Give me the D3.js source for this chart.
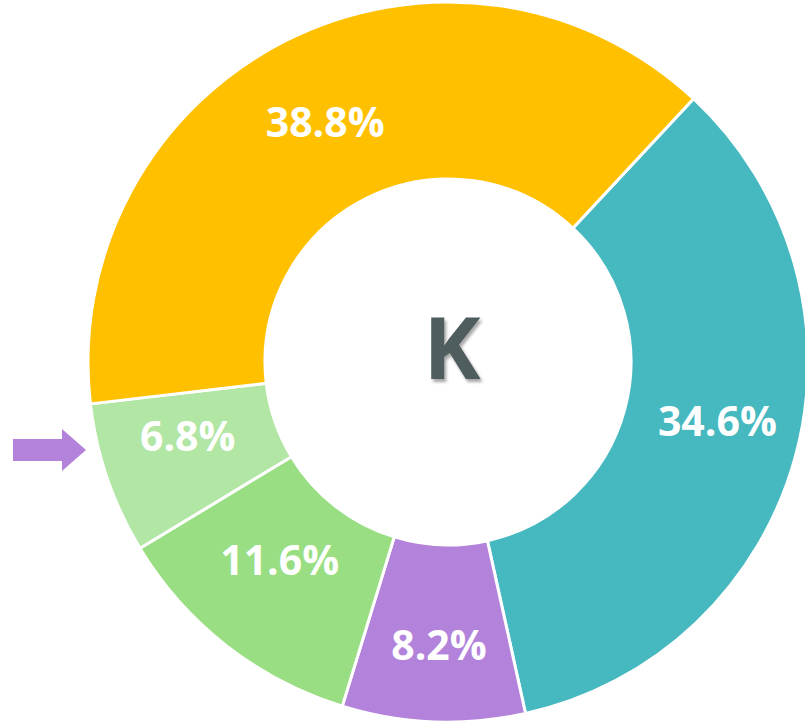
<!DOCTYPE html>
<html lang="en">
<head>
    <meta charset="UTF-8">
    <title>K donut</title>
    <style>
        body { margin: 0; background: #fff; }
        .slice-label {
            font-family: "Open Sans", "DejaVu Sans", sans-serif;
            font-weight: 700;
            font-size: 41px;
            fill: #fff;
        }
        .center-label {
            font-family: "Open Sans", "DejaVu Sans", sans-serif;
            font-weight: 700;
            font-size: 86px;
            fill: #4f5d5e;
        }
    </style>
</head>
<body>
    <svg width="805" height="728"></svg>

    <script src="https://d3js.org/d3.v7.min.js"></script>
    <script>
        // shares in percent, clockwise starting from the upper right
        const segments = ['A', 'B', 'C', 'D', 'E'];
        const shares = [34.6, 8.2, 11.6, 6.8, 38.8];
        const colors = ['#46b8c0', '#b383db', '#99de83', '#b2e6a4', '#ffc000'];
        const centerText = 'K';
        const highlighted = 'D';

        const width = 805;
        const height = 728;
        const cx = 448, cy = 362;
        const outerR = 360, innerR = 183;
        const start = 43 * Math.PI / 180;

        // labels were nudged by hand in the original, keep the same nudges
        const labelNudge = {
            A: [7, -12], B: [2, 11], C: [-1, -16], D: [-3, -14], E: [0, 3]
        };

        const svg = d3.select('svg');

        const defs = svg.append('defs');
        const shadow = defs.append('filter').attr('id', 'shadow')
            .attr('x', '-20%').attr('y', '-20%').attr('width', '140%').attr('height', '140%');
        shadow.append('feDropShadow')
            .attr('dx', 2).attr('dy', 3).attr('stdDeviation', 1.5)
            .attr('flood-color', '#000').attr('flood-opacity', 0.35);

        const color = d3.scaleOrdinal().domain(segments).range(colors);

        const pie = d3.pie()
            .sort(null)
            .value((d, i) => shares[i])
            .startAngle(start)
            .endAngle(start + 2 * Math.PI);

        const arc = d3.arc().innerRadius(innerR).outerRadius(outerR);
        const labelArc = d3.arc().innerRadius(272).outerRadius(272);

        const g = svg.append('g').attr('transform', `translate(${cx},${cy})`);
        const arcs = pie(segments);

        g.selectAll('path')
            .data(arcs)
            .enter().append('path')
            .attr('d', arc)
            .attr('fill', d => color(d.data))
            .attr('stroke', '#fff')
            .attr('stroke-width', 3)
            .attr('stroke-linejoin', 'round');

        g.selectAll('.slice-label')
            .data(arcs)
            .enter().append('text')
            .attr('class', 'slice-label')
            .attr('transform', d => {
                const [x, y] = labelArc.centroid(d);
                const [nx, ny] = labelNudge[d.data];
                return `translate(${x + nx},${y + ny})`;
            })
            .attr('text-anchor', 'middle')
            .attr('dy', '0.36em')
            .text((d, i) => shares[i].toFixed(1) + '%');

        g.append('text')
            .attr('class', 'center-label')
            .attr('x', 4)
            .attr('y', -14)
            .attr('dy', '0.36em')
            .attr('text-anchor', 'middle')
            .attr('filter', 'url(#shadow)')
            .text(centerText);

        // arrow pointing at the highlighted slice
        const hl = arcs.find(d => d.data === highlighted);
        const tipY = cy + 88;
        const tipX = 86;
        const arrow = d3.path();
        arrow.moveTo(13, tipY - 11);
        arrow.lineTo(tipX - 24, tipY - 11);
        arrow.lineTo(tipX - 24, tipY - 21);
        arrow.lineTo(tipX, tipY);
        arrow.lineTo(tipX - 24, tipY + 21);
        arrow.lineTo(tipX - 24, tipY + 11);
        arrow.lineTo(13, tipY + 11);
        arrow.closePath();
        svg.append('path')
            .attr('d', arrow.toString())
            .attr('fill', color(segments[1]));
    </script>
</body>
</html>
